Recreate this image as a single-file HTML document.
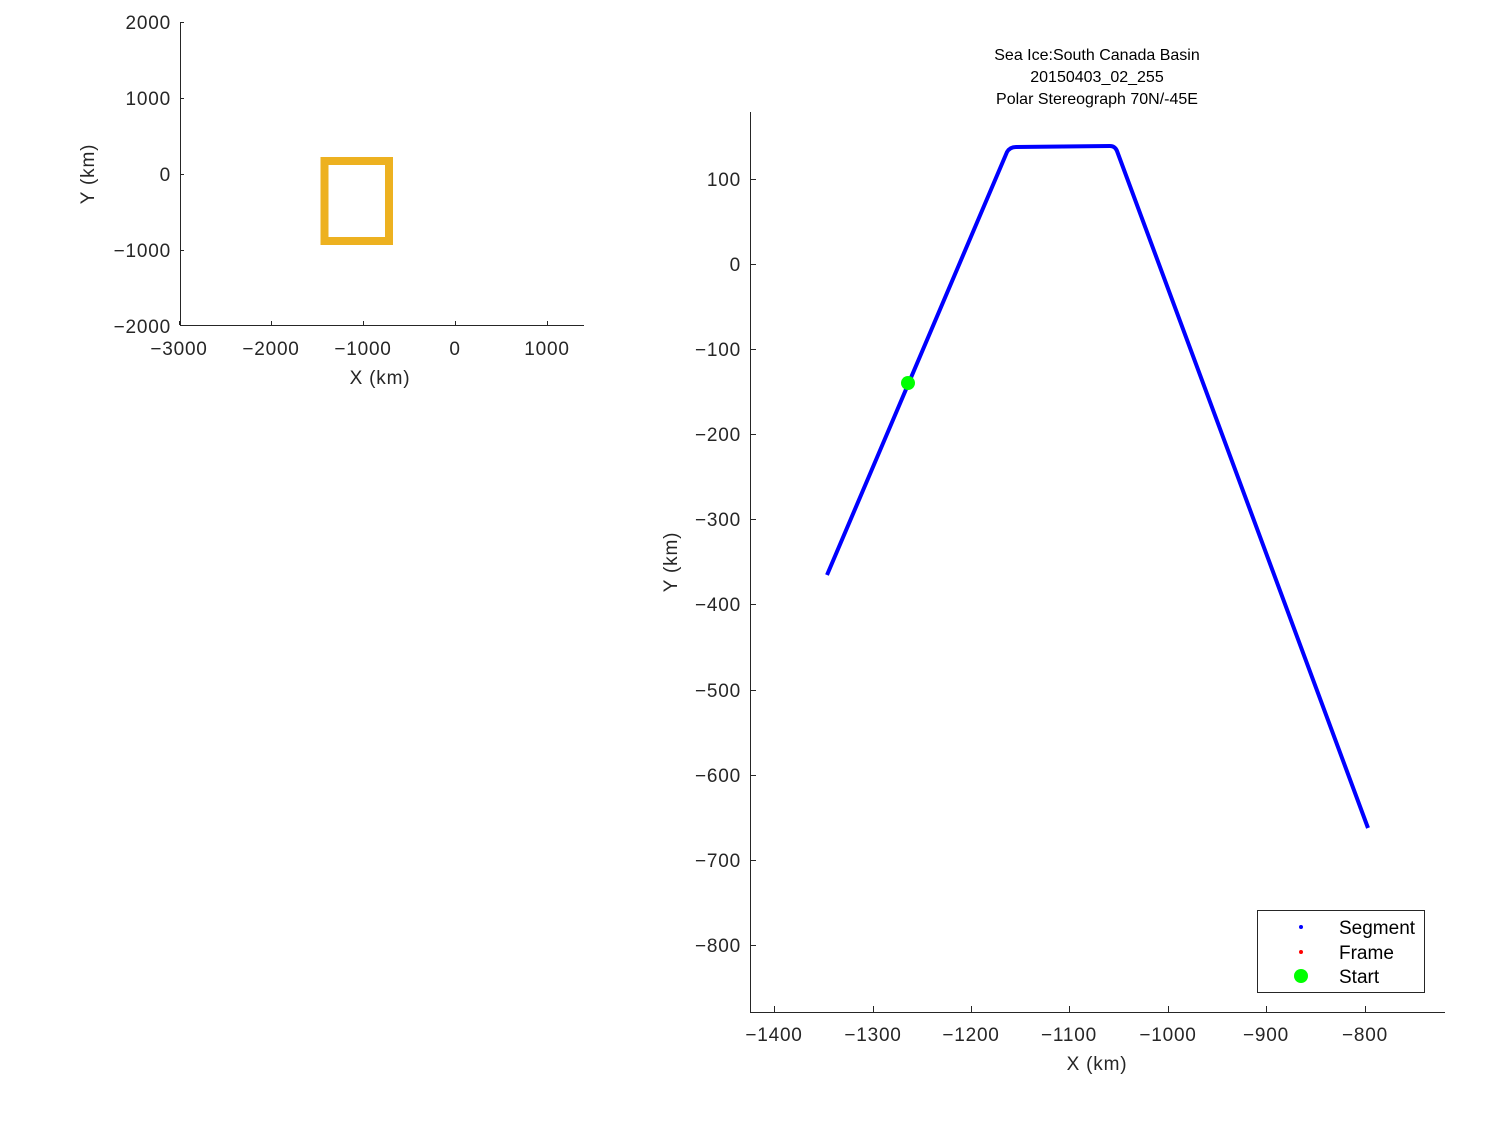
<!DOCTYPE html>
<html><head><style>
html,body{margin:0;padding:0;background:#fff;}
svg{display:block;font-family:"Liberation Sans","DejaVu Sans",sans-serif;}
.t{letter-spacing:0.8px;}
</style></head><body>
<svg width="1500" height="1125" viewBox="0 0 1500 1125" xmlns="http://www.w3.org/2000/svg">
<rect width="1500" height="1125" fill="#fff"/>
<g stroke="#262626" stroke-width="1" fill="none">
<path d="M180.5,22 V325.5 H584"/>
<path d="M179.5,325 v-4 M271.5,325 v-4 M363.5,325 v-4 M455.5,325 v-4 M547.5,325 v-4"/>
<path d="M180,22.5 h4 M180,98.5 h4 M180,174.5 h4 M180,250.5 h4 M180,325.5 h4"/>
</g>
<g class="t" font-size="19" fill="#262626" text-anchor="middle">
<text x="179" y="355">−3000</text><text x="271" y="355">−2000</text><text x="363" y="355">−1000</text><text x="455" y="355">0</text><text x="547" y="355">1000</text>
<text x="380" y="384">X (km)</text>
</g>
<g class="t" font-size="19" fill="#262626" text-anchor="end">
<text x="171" y="29">2000</text><text x="171" y="105">1000</text><text x="171" y="181">0</text><text x="171" y="257">−1000</text><text x="171" y="333">−2000</text>
</g>
<text class="t" transform="translate(94,174) rotate(-90)" font-size="19" fill="#262626" text-anchor="middle">Y (km)</text>
<rect x="324.5" y="161" width="64.5" height="80" fill="none" stroke="#EDB120" stroke-width="8"/>

<g stroke="#262626" stroke-width="1" fill="none">
<path d="M750.5,112 V1012.5 H1445"/>
<path d="M774.5,1012 v-6 M873.5,1012 v-6 M971.5,1012 v-6 M1069.5,1012 v-6 M1168.5,1012 v-6 M1266.5,1012 v-6 M1365.5,1012 v-6"/>
<path d="M750,179.5 h6 M750,264.5 h6 M750,349.5 h6 M750,434.5 h6 M750,519.5 h6 M750,604.5 h6 M750,690.5 h6 M750,775.5 h6 M750,860.5 h6 M750,945.5 h6"/>
</g>
<g class="t" font-size="19" fill="#262626" text-anchor="middle">
<text x="774" y="1041">−1400</text><text x="873" y="1041">−1300</text><text x="971" y="1041">−1200</text><text x="1069" y="1041">−1100</text><text x="1168" y="1041">−1000</text><text x="1266" y="1041">−900</text><text x="1365" y="1041">−800</text>
<text x="1097" y="1070">X (km)</text>
</g>
<g class="t" font-size="19" fill="#262626" text-anchor="end">
<text x="741" y="186">100</text><text x="741" y="271">0</text><text x="741" y="356">−100</text><text x="741" y="441">−200</text><text x="741" y="526">−300</text><text x="741" y="611">−400</text><text x="741" y="697">−500</text><text x="741" y="782">−600</text><text x="741" y="867">−700</text><text x="741" y="952">−800</text>
</g>
<text class="t" transform="translate(677,562) rotate(-90)" font-size="19" fill="#262626" text-anchor="middle">Y (km)</text>
<g font-size="16" fill="#000" text-anchor="middle">
<text x="1097" y="60">Sea Ice:South Canada Basin</text>
<text x="1097" y="82">20150403_02_255</text>
<text x="1097" y="104">Polar Stereograph 70N/-45E</text>
</g>
<path d="M827,575 L1007,152 Q1010,147 1016,147 L1110,146 Q1115,146 1117,151 L1368,828" fill="none" stroke="#0000ff" stroke-width="4" stroke-linejoin="round"/>
<circle cx="908" cy="383" r="7" fill="#00ff00"/>

<rect x="1257.5" y="910.5" width="167" height="82" fill="#fff" stroke="#262626" stroke-width="1"/>
<circle cx="1301" cy="927" r="2" fill="#0000ff"/>
<circle cx="1301" cy="952" r="2" fill="#ff0000"/>
<circle cx="1301" cy="976" r="7" fill="#00ff00"/>
<g font-size="19" fill="#000">
<text x="1339" y="934">Segment</text>
<text x="1339" y="959">Frame</text>
<text x="1339" y="983">Start</text>
</g>
</svg>
</body></html>
